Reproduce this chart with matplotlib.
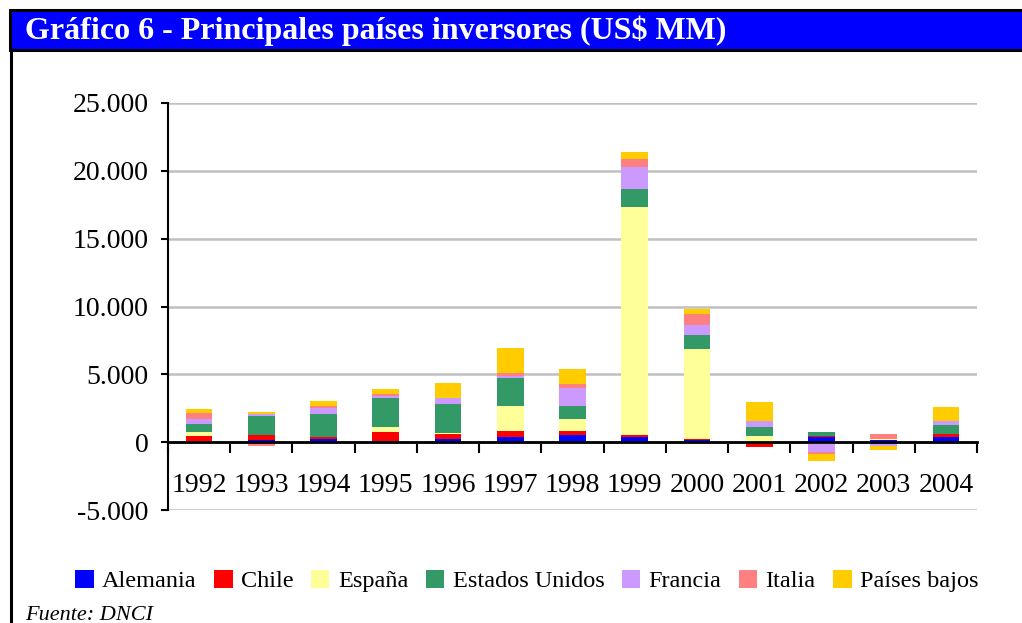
import numpy as np
import matplotlib.pyplot as plt
from matplotlib.patches import Rectangle, Patch
from matplotlib.lines import Line2D
from matplotlib.ticker import FuncFormatter

plt.rcParams['font.family'] = ['Liberation Serif', 'DejaVu Serif']

years = ['1992', '1993', '1994', '1995', '1996', '1997', '1998',
         '1999', '2000', '2001', '2002', '2003', '2004']

# US$ MM
alemania = [0, 170, 220, 90, 220, 370, 520, 370, 150, 0, 390, 150, 390]
chile = [440, 350, 150, 650, 370, 440, 300, 150, 70, -320, 100, 0, 220]
espana = [300, 0, 0, 370, 70, 1840, 880, 16800, 6640, 470, -120, 70, 0]
estados_unidos = [590, 1400, 1700, 2140, 2140, 2070, 960, 1330, 1030, 660, 270, -150, 660]
francia = [370, 170, 440, 170, 440, 150, 1330, 1620, 740, 440, -590, -100, 300]
italia = [440, -300, 170, 120, 0, 220, 300, 590, 810, 0, -150, 370, 0]
paises_bajos = [300, 120, 350, 370, 1110, 1840, 1110, 520, 370, 1400, -520, -300, 1030]

series = [
    ('Alemania', alemania, '#0000FF'),
    ('Chile', chile, '#FF0000'),
    ('España', espana, '#FFFF99'),
    ('Estados Unidos', estados_unidos, '#339966'),
    ('Francia', francia, '#CC99FF'),
    ('Italia', italia, '#FF8080'),
    ('Países bajos', paises_bajos, '#FFCC00'),
]

W, H = 1022, 623
fig = plt.figure(figsize=(W / 100, H / 100), dpi=100)

# title bar
fig.patches.append(Rectangle((10 / W, 1 - 50 / H), 1.0, 40 / H, transform=fig.transFigure,
                             facecolor='#0000FF', edgecolor='black', linewidth=2.2))
fig.lines.append(Line2D([11 / W, 11 / W], [0, 1 - 50 / H], transform=fig.transFigure,
                        color='black', linewidth=2.2))
fig.text(25 / W, 1 - 31 / H, 'Gráfico 6 - Principales países inversores (US$ MM)',
         color='white', fontsize=23, fontweight='bold', va='center', ha='left')

ax = fig.add_axes([168 / W, 1 - 510 / H, (977 - 168) / W, (510 - 103) / H])

x = np.arange(len(years))
pos_bottom = np.zeros(len(years))
neg_bottom = np.zeros(len(years))
handles = []
for name, vals, color in series:
    v = np.array(vals, dtype=float)
    bottom = np.where(v >= 0, pos_bottom, neg_bottom)
    ax.bar(x, v, width=0.43, bottom=bottom, color=color, linewidth=0, zorder=2)
    pos_bottom += np.where(v > 0, v, 0)
    neg_bottom += np.where(v < 0, v, 0)
    handles.append(Patch(facecolor=color, label=name))

ax.set_xlim(-0.5, len(years) - 0.5)
ax.set_ylim(-5000, 25000)
ax.set_yticks(np.arange(-5000, 25001, 5000))
ax.yaxis.set_major_formatter(FuncFormatter(lambda v, p: f'{v:,.0f}'.replace(',', '.')))
ax.yaxis.grid(True, color='#C0C0C0', linewidth=1.8)
ax.set_axisbelow(True)

for s in ['top', 'right']:
    ax.spines[s].set_visible(False)
ax.spines['left'].set_linewidth(1.5)
ax.spines['bottom'].set_position(('data', 0))
ax.spines['bottom'].set_linewidth(2)
ax.spines['bottom'].set_zorder(3)

ax.set_xticks(np.arange(len(years) + 1) - 0.5)
ax.set_xticklabels([])
ax.set_xticks(x, minor=True)
ax.set_xticklabels(years, minor=True)
ax.tick_params(axis='x', which='major', length=8, width=1.5, direction='out')
ax.tick_params(axis='x', which='minor', length=0, pad=22, labelsize=20)
ax.tick_params(axis='y', length=5, width=1.5, direction='out', labelsize=20, pad=9)

fig.legend(handles=handles, loc='center', bbox_to_anchor=(527 / W, 1 - 581 / H), ncol=7,
           frameon=False, fontsize=17.5, handlelength=0.75, handleheight=0.75,
           handletextpad=0.35, columnspacing=0.72, borderaxespad=0)

fig.text(25 / W, 1 - 620 / H, 'Fuente: DNCI', fontsize=16, style='italic',
         va='baseline', ha='left')

fig.savefig('out.png', dpi=100)
